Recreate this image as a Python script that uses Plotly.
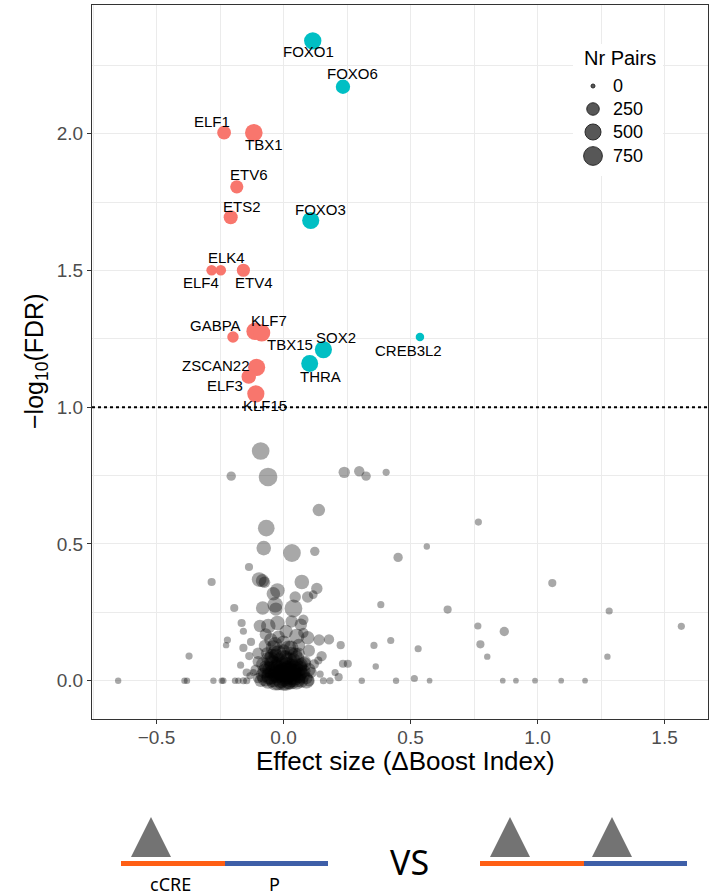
import numpy as np
import plotly.graph_objects as go

# ---------------- data ----------------
# significant TFs (coloured)
red_names = ["ELF1", "TBX1", "ETV6", "ETS2", "ELF4", "ELK4", "ETV4", "GABPA", "KLF7",
             "TBX15", "ZSCAN22", "ELF3", "KLF15"]
red_x = [-0.234, -0.117, -0.184, -0.208, -0.283, -0.247, -0.158, -0.199, -0.112,
         -0.086, -0.106, -0.137, -0.109]
red_y = [2.004, 2.004, 1.806, 1.695, 1.501, 1.501, 1.501, 1.257, 1.278,
         1.272, 1.146, 1.112, 1.049]
red_n = [330, 640, 290, 350, 150, 150, 290, 190, 620, 600, 600, 380, 600]

teal_names = ["FOXO1", "FOXO6", "FOXO3", "SOX2", "THRA", "CREB3L2"]
teal_x = [0.115, 0.234, 0.107, 0.157, 0.103, 0.537]
teal_y = [2.340, 2.172, 1.683, 1.211, 1.160, 1.257]
teal_n = [620, 370, 600, 600, 580, 70]

# non-significant TFs (grey)
gray_x = [-0.09, -0.206, -0.061, 0.239, 0.298, 0.325, 0.404, 0.139, -0.068, -0.078,
          0.033, 0.123, 0.767, 0.564, 0.451, 1.058, 0.383, 0.646, 1.282, 0.765,
          0.869, 1.566, 0.356, 0.422, 0.530, 0.775, 0.802, 1.275, 0.363, 0.443,
          0.515, 0.575, 0.863, 0.915, 0.99, 1.093, 1.187, -0.651, -0.39, -0.38,
          -0.372, -0.136, -0.283, -0.096, -0.083, -0.075, 0.072, 0.131, -0.024, -0.04,
          -0.033, -0.03, 0.039, -0.082, -0.194, 0.095, 0.046, 0.117, -0.165, -0.158,
          -0.093, -0.06, -0.024, 0.032, 0.068, 0.078, 0.095, 0.14, 0.179, 0.225,
          -0.221, -0.226, -0.158, -0.128, -0.135, -0.169, -0.073, -0.033, 0.052, 0.15,
          0.137, 0.203, 0.217, 0.234, 0.253, 0.144, -0.145, -0.132, -0.119, -0.276,
          -0.243, -0.237, -0.191, -0.178, -0.158, -0.145, 0.157, 0.183, 0.308, 0.078,
          -0.08, -0.06, -0.05, -0.04, -0.03, -0.02, -0.01, 0.0, 0.0, 0.01,
          0.02, 0.02, 0.03, 0.04, 0.05, 0.05, 0.06, 0.07, 0.08, 0.09,
          0.1, -0.07, -0.09, -0.1, -0.06, -0.03, 0.01, 0.04, 0.07, -0.045,
          -0.015, 0.015, 0.035, -0.025, 0.005, 0.025, -0.055, 0.045, 0.065, -0.075,
          -0.035, 0.0, 0.03, 0.06, -0.065, 0.085, 0.11, -0.11, 0.12, -0.1,
          -0.05, 0.0, 0.02, -0.02, 0.06, -0.07, 0.01, -0.1, 0.1, -0.045, 0.045,
          -0.07, -0.05, -0.03, -0.01, 0.01, 0.03, 0.05, 0.07, 0.09, -0.06,
          -0.04, -0.02, 0.0, 0.02, 0.04, 0.06, 0.08, -0.08, -0.05, 0.0,
          0.05, -0.02, 0.03, -0.04, 0.015, -0.012, 0.028, -0.038, 0.062, 0.1]
gray_y = [0.84, 0.748, 0.745, 0.762, 0.766, 0.748, 0.762, 0.624, 0.558, 0.485,
          0.467, 0.473, 0.58, 0.491, 0.451, 0.357, 0.278, 0.26, 0.255, 0.2,
          0.18, 0.199, 0.129, 0.147, 0.117, 0.133, 0.088, 0.088, 0.052, 0.0,
          0.008, 0.0, 0.0, 0.0, 0.0, 0.0, 0.0, 0.0, 0.0, 0.0,
          0.09, 0.416, 0.361, 0.37, 0.366, 0.36, 0.361, 0.337, 0.33, 0.318,
          0.278, 0.262, 0.264, 0.266, 0.266, 0.306, 0.306, 0.315, 0.211, 0.181,
          0.2, 0.2, 0.211, 0.217, 0.205, 0.175, 0.157, 0.149, 0.151, 0.13,
          0.149, 0.13, 0.12, 0.142, 0.09, 0.057, 0.127, 0.133, 0.162, 0.09,
          0.074, 0.03, 0.013, 0.062, 0.062, 0.024, 0.03, 0.018, 0.03, 0.0,
          0.0, 0.0, 0.0, 0.0, 0.0, 0.0, 0.0, 0.0, 0.0, 0.223,
          0.02, 0.0, 0.04, 0.01, 0.05, 0.0, 0.03, 0.0, 0.06, 0.02,
          0.0, 0.045, 0.01, 0.03, 0.0, 0.055, 0.02, 0.0, 0.035, 0.01,
          0.0, 0.05, 0.0, 0.01, 0.08, 0.09, 0.085, 0.075, 0.06, 0.065,
          0.07, 0.055, 0.05, 0.025, 0.015, 0.03, 0.015, 0.015, 0.045, 0.035,
          0.105, 0.11, 0.1, 0.1, 0.1, 0.07, 0.03, 0.04, 0.06, 0.07,
          0.15, 0.14, 0.12, 0.16, 0.13, 0.17, 0.18, 0.1, 0.11, 0.09, 0.095,
          0.01, 0.02, 0.0, 0.01, 0.0, 0.02, 0.01, 0.02, 0.0, 0.04,
          0.06, 0.04, 0.03, 0.07, 0.04, 0.05, 0.06, 0.06, 0.08, 0.08,
          0.08, 0.1, 0.12, 0.12, 0.035, 0.055, 0.005, 0.03, 0.03, 0.04]
gray_n = [650, 100, 750, 190, 140, 100, 35, 250, 560, 390,
          660, 100, 35, 20, 100, 60, 35, 60, 35, 35,
          100, 35, 35, 35, 35, 60, 20, 20, 20, 20,
          35, 10, 10, 10, 10, 10, 10, 20, 20, 20,
          35, 60, 60, 400, 300, 200, 390, 190, 390, 320,
          450, 300, 660, 320, 60, 190, 190, 80, 60, 35,
          250, 390, 390, 250, 250, 140, 320, 190, 140, 60,
          35, 20, 60, 60, 60, 35, 250, 390, 450, 140,
          60, 35, 60, 60, 60, 35, 60, 35, 35, 20,
          20, 20, 20, 20, 35, 35, 35, 35, 20, 140,
          400, 500, 600, 700, 450, 800, 650, 900, 500, 750,
          600, 550, 700, 500, 650, 400, 450, 350, 300, 250,
          200, 300, 250, 150, 350, 420, 380, 330, 280, 520,
          600, 640, 560, 720, 850, 780, 540, 610, 420, 380,
          300, 260, 310, 220, 240, 200, 160, 140, 120, 180,
          300, 350, 420, 280, 260, 230, 300, 200, 230, 400, 380,
          600, 750, 850, 900, 880, 820, 760, 600, 450, 550,
          600, 800, 900, 700, 750, 600, 400, 350, 450, 650,
          500, 500, 400, 450, 850, 780, 900, 700, 550, 300]

legend_values = [0, 250, 500, 750]
x_ticks = [-0.5, 0.0, 0.5, 1.0, 1.5]
y_ticks = [0.0, 0.5, 1.0, 1.5, 2.0]
FDR_THRESHOLD = 1.0  # -log10(0.1)

# label offsets (pixels, dx right, dy down) for the repelled labels
label_offsets = {
    "FOXO1": (-4, 11), "FOXO6": (10, -13), "FOXO3": (10, -11), "SOX2": (13, -12),
    "THRA": (11, 13), "CREB3L2": (-11, 14), "ELF1": (-12, -11), "TBX1": (10, 12),
    "ETV6": (12, -12), "ETS2": (11, -11), "ELK4": (6, -13), "ELF4": (-11, 12),
    "ETV4": (11, 12), "GABPA": (-17, -11), "KLF7": (14, -11), "TBX15": (28, 12),
    "ZSCAN22": (-41, -2), "ELF3": (-24, 9), "KLF15": (9, 12),
}

# ---------------- styling ----------------
W, H = 719, 896
PL, PR, PT, PB = 92, 708, 5, 719
FONT = "Liberation Sans, Arial, Helvetica, sans-serif"
RED = "#F8766D"
TEAL = "#00BFC4"


def diam(n):
    return 4 + 8.5 * np.sqrt(np.asarray(n, dtype=float) / 250.0)


def pxx(x):
    return (x - PL) / (PR - PL)


def pxy(y):
    return (PB - y) / (PB - PT)


fig = go.Figure()

fig.add_trace(go.Scatter(
    x=gray_x, y=gray_y, mode="markers", hoverinfo="skip", showlegend=False,
    marker=dict(size=diam(gray_n), color="rgba(0,0,0,0.34)", opacity=1, line=dict(width=0)),
))
fig.add_trace(go.Scatter(
    x=red_x, y=red_y, mode="markers", text=red_names, showlegend=False,
    marker=dict(size=diam(red_n), color=RED, opacity=1, line=dict(width=0)),
))
fig.add_trace(go.Scatter(
    x=teal_x, y=teal_y, mode="markers", text=teal_names, showlegend=False,
    marker=dict(size=diam(teal_n), color=TEAL, opacity=1, line=dict(width=0)),
))

annotations = []
for names, xs, ys in [(red_names, red_x, red_y), (teal_names, teal_x, teal_y)]:
    for nm, xv, yv in zip(names, xs, ys):
        dx, dy = label_offsets[nm]
        annotations.append(dict(
            x=xv, y=yv, xref="x", yref="y", text=nm, showarrow=False,
            xanchor="center", yanchor="middle",
            xshift=dx, yshift=-dy, font=dict(family=FONT, size=15, color="black"),
        ))


def ptext(x, y, text, size, family=FONT, xanchor="center", **kw):
    annotations.append(dict(x=pxx(x), y=pxy(y), xref="paper", yref="paper", text=text,
                            showarrow=False, xanchor=xanchor, yanchor="middle",
                            font=dict(family=family, size=size, color="black"), **kw))


shapes = []
# threshold line
shapes.append(dict(type="line", xref="x domain", yref="y", x0=0, x1=1,
                   y0=FDR_THRESHOLD, y1=FDR_THRESHOLD,
                   line=dict(color="black", width=2.2, dash="dot"), layer="above"))

# legend box
shapes.append(dict(type="rect", xref="paper", yref="paper",
                   x0=pxx(573), x1=pxx(663), y0=pxy(176), y1=pxy(44),
                   fillcolor="white", line=dict(width=0), layer="above"))
ptext(620, 58, "Nr Pairs", 20)
leg_y = [86, 109, 132, 156]
for v, yy in zip(legend_values, leg_y):
    r = float(diam(v)) / 2
    shapes.append(dict(type="circle", xref="paper", yref="paper",
                       xsizemode="pixel", ysizemode="pixel",
                       xanchor=pxx(593), yanchor=pxy(yy),
                       x0=-r, x1=r, y0=-r, y1=r,
                       fillcolor="#575757", line=dict(color="#2b2b2b", width=1),
                       layer="above"))
    ptext(611, yy, str(v), 18, xanchor="left")

# axis titles
ptext(405, 761, "Effect size (ΔBoost Index)", 26)
ptext(36, 362, "−log<sub>10</sub>(FDR)", 25, textangle=-90)

# bottom schematic
ORANGE = "#FF5F14"
BLUE = "#3E5FA8"
TRI = "#737373"


def bar(x0, x1, col):
    shapes.append(dict(type="rect", xref="paper", yref="paper",
                       x0=pxx(x0), x1=pxx(x1), y0=pxy(866), y1=pxy(861),
                       fillcolor=col, line=dict(width=0), layer="above"))


def tri(cx):
    path = "M {} {} L {} {} L {} {} Z".format(
        pxx(cx - 20), pxy(857), pxx(cx), pxy(817), pxx(cx + 20), pxy(857))
    shapes.append(dict(type="path", xref="paper", yref="paper", path=path,
                       fillcolor=TRI, line=dict(width=0), layer="above"))


bar(121, 225, ORANGE)
bar(225, 328, BLUE)
bar(480, 584, ORANGE)
bar(584, 687, BLUE)
tri(151)
tri(510)
tri(612)
DFONT = "Noto Sans, Open Sans, sans-serif"
ptext(409, 862, "VS", 34, family=DFONT)
ptext(170, 884, "cCRE", 18, family=DFONT)
ptext(274, 884, "P", 18, family=DFONT)

axis_common = dict(
    showgrid=True, gridcolor="#ebebeb", gridwidth=1.4,
    zeroline=False, showline=True, linecolor="#333333", linewidth=1, mirror=True,
    ticks="outside", ticklen=4, tickcolor="#333333", tickwidth=1,
    tickfont=dict(family=FONT, size=19, color="#4d4d4d"),
)
minor = dict(showgrid=True, gridcolor="#ebebeb", gridwidth=0.7, dtick=0.25, tick0=0.25)

fig.update_layout(
    width=W, height=H,
    margin=dict(l=PL, r=W - PR, t=PT, b=H - PB),
    paper_bgcolor="white", plot_bgcolor="white",
    showlegend=False,
    xaxis=dict(range=[-0.754, 1.671], tickvals=x_ticks, tickformat=".1f",
               minor=minor, ticklabelstandoff=-3, **axis_common),
    yaxis=dict(range=[-0.14, 2.471], tickvals=y_ticks, tickformat=".1f",
               minor=minor, **axis_common),
    shapes=shapes,
    annotations=annotations,
)

fig.write_html("out.html")
